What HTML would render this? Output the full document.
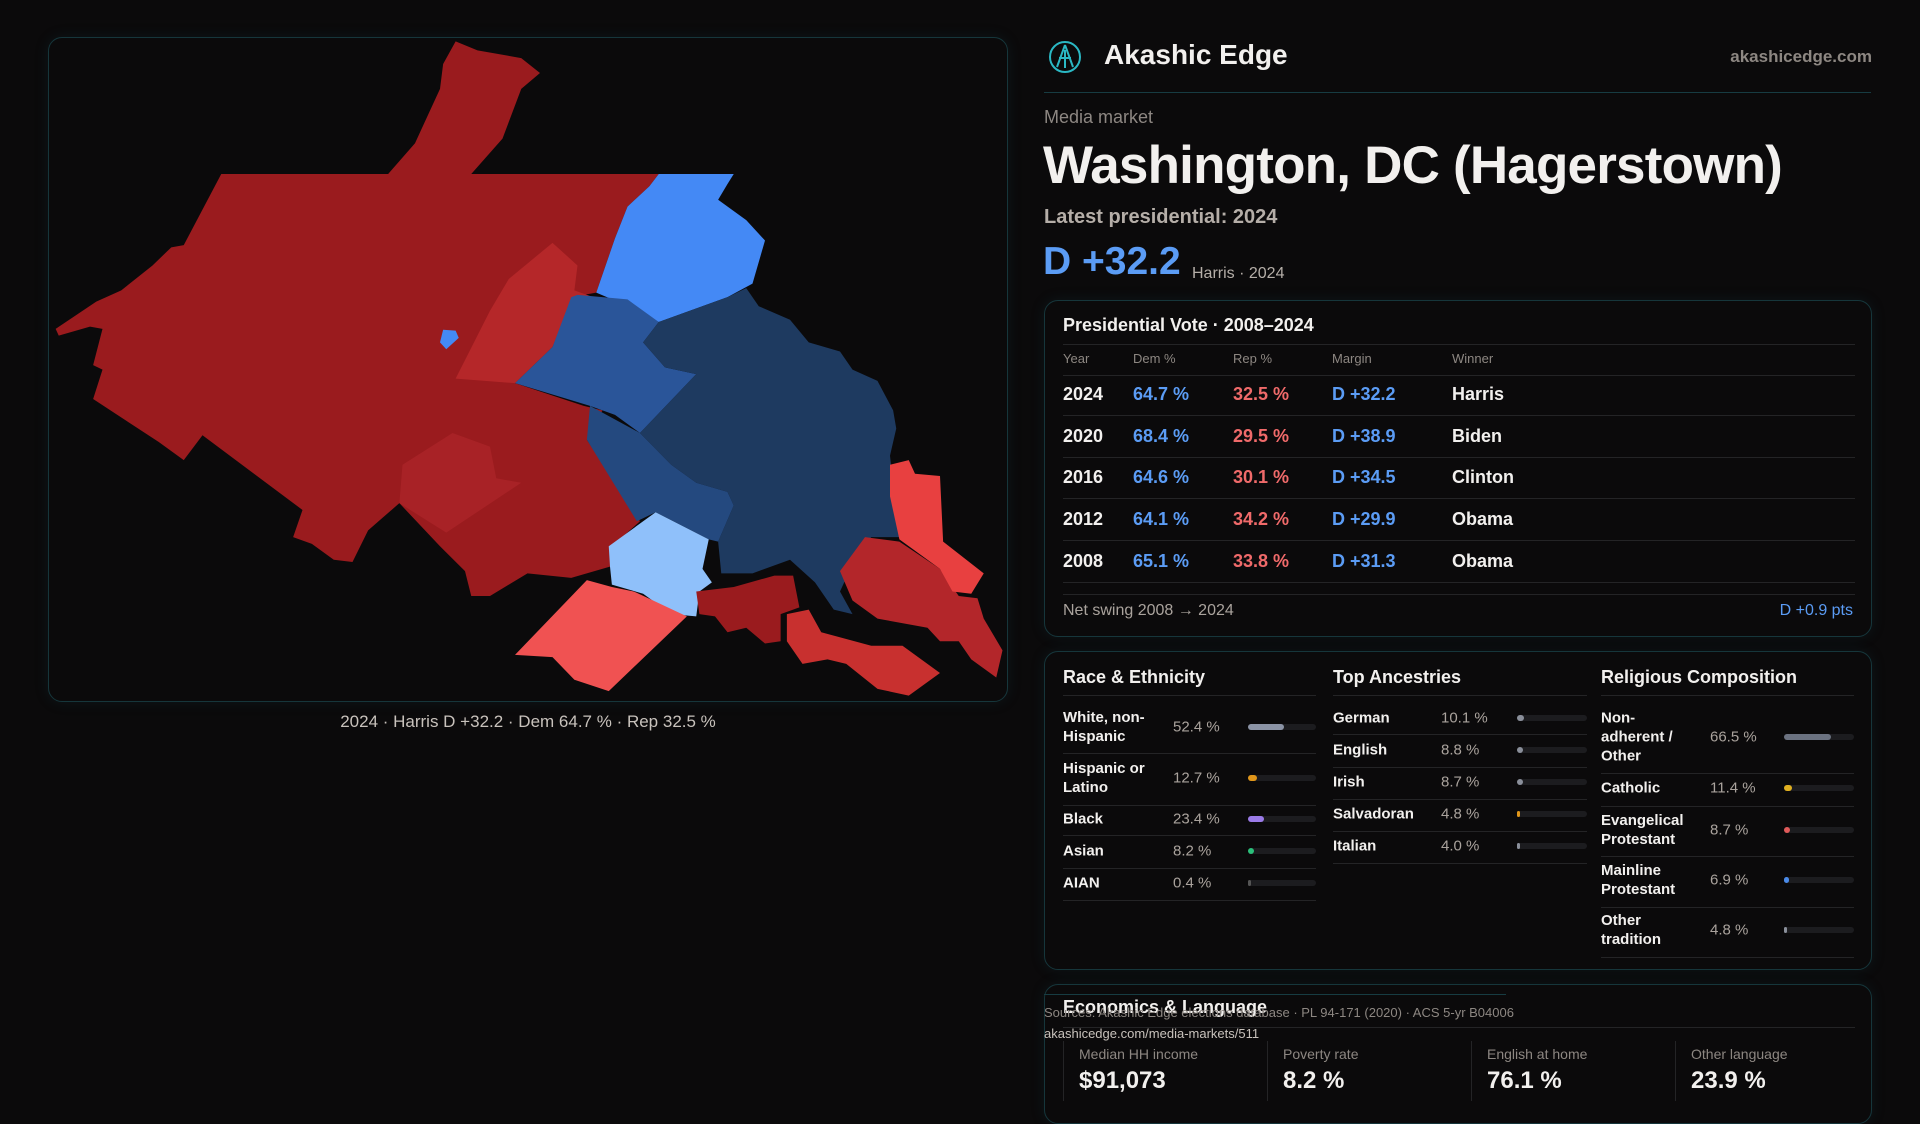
<!DOCTYPE html>
<html><head><meta charset="utf-8"><style>
*{box-sizing:border-box;margin:0;padding:0}
body{width:1920px;height:1080px;background:#0b0a0b;font-family:"Liberation Sans",sans-serif;color:#f2f0ee;position:relative;overflow:hidden}
.a{position:absolute;white-space:nowrap}
.panel{position:absolute;border:1px solid #16363b;border-radius:14px;background:#0b0a0b;box-shadow:0 0 14px rgba(20,80,90,.18)}
.mut{color:#8d8782}
.blue{color:#5b9cf5}.red{color:#f06a6a}
.hl{position:absolute;height:1px;background:#242426}
.bar{position:absolute;height:6px;border-radius:3px;background:#1c1c1f}
.bar i{position:absolute;left:0;top:0;height:6px;border-radius:3px}
</style></head><body>
<div class="panel" style="left:48px;top:37px;width:960px;height:665px">
<svg width="960" height="665" style="position:absolute;left:-1px;top:-1px">
<g transform="translate(-8,-7) scale(0.625,0.4528)">
<polygon fill="#9a1b1e" points="665,25 700,45 770,62 800,95 770,130 740,240 690,318 557,318 600,250 640,130 645,75"/>
<polygon fill="#9a1b1e" points="290,318 990,318 975,345 940,390 920,460 890,580 850,590 820,700 760,780 870,830 900,840 875,905 960,1085 915,1140 912,1185 850,1210 780,1200 720,1250 690,1250 680,1195 640,1140 575,1045 525,1105 500,1175 470,1170 435,1135 405,1120 420,1060 260,895 230,950 190,910 85,815 100,750 85,740 100,660 80,655 30,675 25,660 90,600 130,575 180,520 210,480 230,475"/>
<polygon fill="#b52729" points="750,550 820,470 860,520 855,575 885,590 850,600 820,700 760,780 665,770 720,620"/>
<polygon fill="#a82226" points="580,960 660,890 720,920 730,990 770,1000 650,1110 575,1045"/>
<polygon fill="#4489f5" points="990,318 1110,318 1100,340 1085,375 1130,420 1160,465 1140,560 1100,590 990,645 950,615 890,580 920,460 940,390 975,345"/>
<polygon fill="#2a5599" points="860,585 940,595 990,645 965,690 1000,745 1050,760 960,890 920,850 880,830 760,780 820,700 850,590"/>
<polygon fill="#1e3a60" points="990,645 1100,590 1130,570 1150,610 1200,640 1230,690 1280,710 1300,750 1340,775 1365,840 1370,880 1360,940 1365,1000 1375,1120 1330,1120 1300,1180 1280,1240 1300,1290 1270,1280 1240,1220 1200,1170 1140,1200 1090,1200 1085,1130 1110,1050 1100,1020 1050,1000 1010,960 960,890 1050,760 1000,745 965,690"/>
<polygon fill="#24497f" points="880,830 960,890 1010,960 1050,1000 1100,1020 1110,1050 1085,1130 1070,1125 985,1065 955,1085 875,905"/>
<polygon fill="#8fc0fa" points="910,1140 985,1065 1070,1125 1060,1190 1075,1220 1055,1240 1050,1295 1010,1290 990,1270 965,1245 915,1225 912,1185"/>
<polygon fill="#f05252" points="760,1380 875,1215 915,1230 950,1240 1035,1295 910,1460 855,1435 820,1385"/>
<polygon fill="#9a1b1e" points="1050,1240 1110,1230 1175,1205 1205,1205 1215,1275 1185,1290 1185,1350 1160,1355 1130,1320 1100,1330 1080,1295 1055,1290"/>
<polygon fill="#c8302f" points="1195,1290 1230,1280 1250,1330 1330,1360 1380,1360 1440,1420 1390,1470 1340,1455 1290,1400 1260,1390 1220,1400 1195,1350"/>
<polygon fill="#b3262a" points="1280,1195 1320,1120 1375,1130 1440,1190 1470,1250 1500,1255 1510,1300 1540,1370 1530,1430 1490,1390 1470,1350 1440,1350 1420,1320 1340,1300 1300,1260"/>
<polygon fill="#e84040" points="1360,960 1390,950 1400,980 1440,985 1445,1130 1510,1200 1490,1245 1460,1240 1440,1190 1375,1125 1360,1030"/>
<polygon fill="#4489f5" points="645,662 665,664 670,680 650,705 640,690"/>
</g></svg></div>
<div class="a mut" style="left:0;width:1056px;text-align:center;top:712px;font-size:17px;color:#c8c2bc">2024 · Harris D +32.2 · Dem 64.7 % · Rep 32.5 %</div>

<svg class="a" style="left:1048px;top:40px" width="34" height="34"><circle cx="17" cy="17" r="15" fill="none" stroke="#2bb8c4" stroke-width="2"/><path d="M17 5 L9 27 M17 5 L25 27 M11 18 H23 M17 10 V28" stroke="#2bb8c4" stroke-width="2" fill="none"/></svg>
<div class="a" style="left:1104px;top:39px;font-size:28px;font-weight:600">Akashic Edge</div>
<div class="a mut" style="right:48px;top:47px;font-size:17px;font-weight:600">akashicedge.com</div>
<div class="hl" style="left:1044px;top:92px;width:827px;background:#173c42"></div>
<div class="a mut" style="left:1044px;top:107px;font-size:18px">Media market</div>
<div class="a" style="left:1043px;top:135px;font-size:53px;font-weight:600;letter-spacing:-0.8px">Washington, DC (Hagerstown)</div>
<div class="a mut" style="left:1044px;top:206px;font-size:20px;font-weight:600;color:#b5aea8">Latest presidential: 2024</div>
<div class="a blue" style="left:1043px;top:240px;font-size:39px;font-weight:600">D +32.2</div>
<div class="a mut" style="left:1192px;top:265px;font-size:16px;color:#b5aea8">Harris · 2024</div>

<div class="panel" style="left:1044px;top:300px;width:828px;height:337px">
<div class="a" style="left:18px;top:14px;font-size:18px;font-weight:600">Presidential Vote · 2008–2024</div>
<div class="hl" style="left:18px;top:43px;width:792px"></div>
<div id="vt"></div>
<div class="hl" style="left:18px;top:293px;width:792px"></div>
<div class="a mut" style="left:18px;top:301px;font-size:16px;color:#aaa39d">Net swing 2008 → 2024</div>
<div class="a blue" style="right:18px;top:301px;font-size:16px">D +0.9 pts</div>
</div>

<div class="panel" style="left:1044px;top:651px;width:828px;height:319px">
<div class="a" style="left:18px;top:15px;font-size:18px;font-weight:600">Race &amp; Ethnicity</div>
<div class="a" style="left:288px;top:15px;font-size:18px;font-weight:600">Top Ancestries</div>
<div class="a" style="left:556px;top:15px;font-size:18px;font-weight:600">Religious Composition</div>
<div id="demo"></div>
</div>

<div class="panel" style="left:1044px;top:984px;width:828px;height:140px">
<div class="a" style="left:18px;top:12px;font-size:18px;font-weight:600">Economics &amp; Language</div>
<div class="hl" style="left:18px;top:42px;width:792px"></div>
<div id="econ"></div>
</div>
<div class="hl" style="left:1044px;top:994px;width:462px;background:#173c42"></div>
<div class="a mut" style="left:1044px;top:1005px;font-size:13px;color:#8d8782">Sources: Akashic Edge elections database · PL 94-171 (2020) · ACS 5-yr B04006</div>
<div class="a" style="left:1044px;top:1026px;font-size:13px;color:#c8c2bc">akashicedge.com/media-markets/511</div>

<script>
const years=["2024","2020","2016","2012","2008"];
const demPct=[64.7,68.4,64.6,64.1,65.1];
const repPct=[32.5,29.5,30.1,34.2,33.8];
const winners=["Harris","Biden","Clinton","Obama","Obama"];
const raceLabels=["White, non-<br>Hispanic","Hispanic or<br>Latino","Black","Asian","AIAN"];
const raceVals=[52.4,12.7,23.4,8.2,0.4];
const raceColors=["#8b93a5","#e0961a","#9b7be8","#2bbf7a","#555"];
const ancLabels=["German","English","Irish","Salvadoran","Italian"];
const ancVals=[10.1,8.8,8.7,4.8,4.0];
const ancColors=["#8a8f9a","#8a8f9a","#8a8f9a","#e0961a","#8a8f9a"];
const relLabels=["Non-<br>adherent /<br>Other","Catholic","Evangelical<br>Protestant","Mainline<br>Protestant","Other<br>tradition"];
const relVals=[66.5,11.4,8.7,6.9,4.8];
const relColors=["#6b7280","#e0b020","#e05a5a","#4a8ae8","#8a8f9a"];
const econLabels=["Median HH income","Poverty rate","English at home","Other language"];
const econVals=["$91,073","8.2 %","76.1 %","23.9 %"];

const vt=document.getElementById('vt');
let h='';
const cols=[18,88,188,287,407];
["Year","Dem %","Rep %","Margin","Winner"].forEach((c,i)=>{h+=`<div class="a mut" style="left:${cols[i]}px;top:50px;font-size:13px">${c}</div>`});
h+=`<div class="hl" style="left:18px;top:74px;width:792px"></div>`;
vt.innerHTML=h;
years.forEach((y,i)=>{
 const top=83+i*41.7;
 const r=document.createElement('div');
 
 
 const m=(demPct[i]-repPct[i]).toFixed(1);
 r.innerHTML=`<div class="a" style="left:${cols[0]}px;top:${top}px;font-size:18px;font-weight:600">${y}</div>
<div class="a blue" style="left:${cols[1]}px;top:${top}px;font-size:18px;font-weight:600">${demPct[i].toFixed(1)} %</div>
<div class="a red" style="left:${cols[2]}px;top:${top}px;font-size:18px;font-weight:600">${repPct[i].toFixed(1)} %</div>
<div class="a blue" style="left:${cols[3]}px;top:${top}px;font-size:18px;font-weight:600">D +${m}</div>
<div class="a" style="left:${cols[4]}px;top:${top}px;font-size:18px;font-weight:600">${winners[i]}</div>
<div class="hl" style="left:18px;top:${top+31}px;width:792px"></div>`;
 vt.appendChild(r);
});

const demo=document.getElementById('demo');
function section(x,labels,vals,colors,rowTops,rowBottoms,valX,barX,barW,name){
 let s=`<div class="hl" style="left:${x}px;top:43px;width:${barX+barW-x}px"></div>`;
 labels.forEach((l,i)=>{
  const c=rowTops[i];
  const w=Math.max(3,vals[i]/100*barW);
  s+=`<div><div class="a" style="left:${x}px;top:${c}px;font-size:15px;font-weight:600;line-height:19px;transform:translateY(-50%)">${l}</div>
<div class="a mut" style="left:${valX}px;top:${c}px;font-size:15px;transform:translateY(-50%);color:#aaa39d">${vals[i].toFixed(1)} %</div>
<div class="bar" style="left:${barX}px;top:${c-3}px;width:${barW}px"><i style="width:${w}px;background:${colors[i]}"></i></div>
<div class="hl" style="left:${x}px;top:${rowBottoms[i]}px;width:${barX+barW-x}px"></div></div>`;
 });
 return s;
}
demo.innerHTML=
 section(18,raceLabels,raceVals,raceColors,[75,126,167,199,231],[101,153,183,216,248],128,203,68,'race')+
 section(288,ancLabels,ancVals,ancColors,[66,98,130,162,194],[82,115,147,179,211],396,472,70,'ancestry')+
 section(556,relLabels,relVals,relColors,[85,136,178,228,278],[121,154,204,255,305],665,739,70,'religion');

const econ=document.getElementById('econ');
econLabels.forEach((l,i)=>{
 const x=18+i*204;
 const d=document.createElement('div');
 
 
 d.innerHTML=`<div class="a" style="left:${x}px;top:56px;width:1px;height:60px;background:#242426"></div>
<div class="a mut" style="left:${x+16}px;top:61px;font-size:14px">${l}</div>
<div class="a" style="left:${x+16}px;top:82px;font-size:24px;font-weight:600">${econVals[i]}</div>`;
 econ.appendChild(d);
});
</script>
</body></html>
